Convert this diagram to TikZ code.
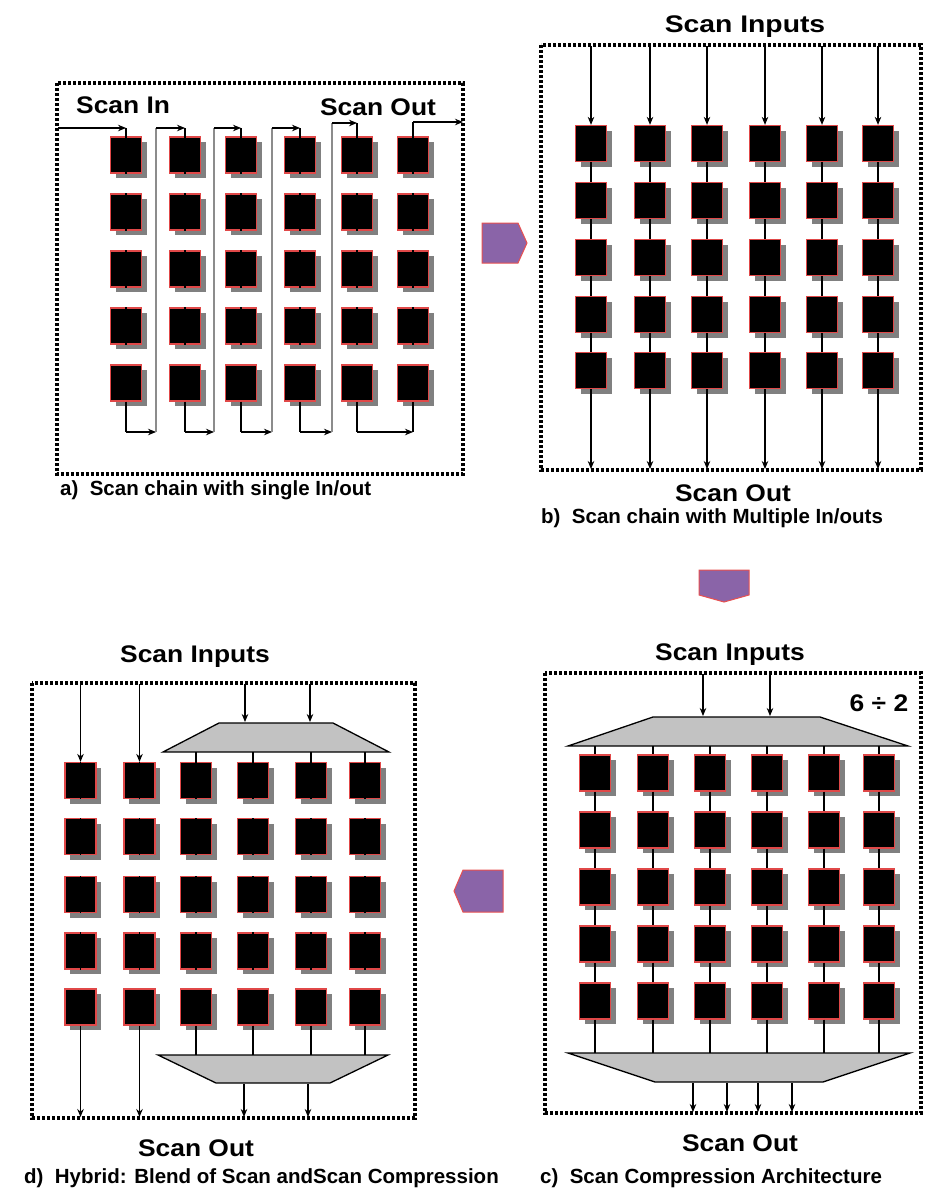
\documentclass[tikz,border=0pt]{standalone}
\usepackage{fontspec}
\setmainfont{Liberation Sans}
\usetikzlibrary{arrows.meta}
\definecolor{cellred}{HTML}{E04848}
\definecolor{shadowgray}{HTML}{808080}
\definecolor{trapgray}{HTML}{C2C2C2}
\definecolor{bigpurple}{HTML}{8A64A8}
\definecolor{bigred}{HTML}{E85050}
\definecolor{wiregray}{HTML}{8C8C8C}
\newcommand\wideText[1]{\scalebox{1.1}[1]{#1}}
\tikzset{
  cellbox/.style={rectangle, draw=cellred, fill=black, line width=1.3pt, inner sep=0pt,
    minimum width=31pt, minimum height=36pt},
  cellshadow/.style={fill=shadowgray},
  frame/.style={draw=black, line width=3.4pt, dash pattern=on 3.4pt off 1.6pt},
  link/.style={draw=black, line width=1.1pt},
  arr/.style={draw=black, line width=1.1pt, -{Stealth[length=8pt,width=6.5pt]}},
  gwire/.style={draw=wiregray, line width=1.6pt},
  trap/.style={fill=trapgray, draw=black, line width=1.3pt},
  bigarrow/.style={fill=bigpurple, draw=bigred, line width=1pt, line join=miter},
  title/.style={font=\bfseries\fontsize{24}{24}\selectfont, inner sep=0pt},
  caption/.style={font=\bfseries\fontsize{20.5}{20.5}\selectfont, inner sep=0pt, anchor=west}
}
\newcommand\cellat[3]{%
  \fill[cellshadow] ([shift={(-10.5,-13)}]#2,#3) rectangle ([shift={(20.5,23)}]#2,#3);
  \node[cellbox] (#1) at (#2,#3) {};}
\begin{document}
\begin{tikzpicture}[x=1pt,y=-1pt]
\useasboundingbox[fill=white] (0,0) rectangle (945,1200);

% ================= Panel a =================
\draw[frame] (57,83) rectangle (463,474);
\foreach [count=\i] \x in {126,185,241,300,357,413}{
  \foreach [count=\j] \y in {155,212,269,326,383}{
    \cellat{a-\i-\j}{\x}{\y}}}
\foreach \i in {1,...,6}
  \foreach \j [evaluate=\j as \k using int(\j+1)] in {1,...,4}
    \draw[link] (a-\i-\j.south) -- (a-\i-\k.north);
\node[title, anchor=west] (ain) at (76,105) {\wideText{Scan In}};
\node[title] (aout) at (378,107) {\wideText{Scan Out}};
\coordinate (ainstart) at (58,128);
\coordinate (aoutend) at (463,122);
% scan in to column 1
\draw[arr] (ainstart) -- (a-1-1.north |- ainstart);
\draw[link] (a-1-1.north |- ainstart) -- (a-1-1.north);
% return wires
\foreach \c/\n/\r/\t in {1/2/156/128, 2/3/214/128, 3/4/272/128, 4/5/332/123}{
  \coordinate (rb\c) at (\r,432);
  \coordinate (rt\c) at (\r,\t);
  \draw[link] (a-\c-5.south) -- (a-\c-5.south |- rb\c);
  \draw[arr] (a-\c-5.south |- rb\c) -- (rb\c);
  \draw[gwire] (rb\c) -- (rt\c);
  \draw[arr] (rt\c) -- (a-\n-1.north |- rt\c);
  \draw[link] (a-\n-1.north |- rt\c) -- (a-\n-1.north);
}
% column 5 bottom to column 6 bottom
\coordinate (rb5) at (357,432);
\draw[link] (a-5-5.south) -- (a-5-5.south |- rb5);
\draw[arr] (a-5-5.south |- rb5) -- (a-6-5.south |- rb5);
\draw[link] (a-6-5.south |- rb5) -- (a-6-5.south);
% column 6 top to scan out
\draw[link] (a-6-1.north) -- (a-6-1.north |- aoutend);
\draw[arr] (a-6-1.north |- aoutend) -- (aoutend);
\node[caption] (acap) at (60,490) {a)\ \ Scan chain with single In/out};

% ================= Panel b =================
\draw[frame] (541,45) rectangle (921,470);
\node[title] (bin) at (745,27) {\scalebox{1.18}[1]{Scan Inputs}};
\foreach [count=\i] \x in {591,650,707,765,822,878}{
  \foreach [count=\j] \y in {143.5,200.5,257.5,314.5,370.5}{
    \cellat{b-\i-\j}{\x}{\y}}}
\foreach \i in {1,...,6}{
  \foreach \j [evaluate=\j as \k using int(\j+1)] in {1,...,4}
    \draw[link] (b-\i-\j.south) -- (b-\i-\k.north);
}
\foreach \i in {1,...,6}{
  \draw[arr] (b-\i-1.north |- 0,46) -- (b-\i-1.north);
  \draw[arr] (b-\i-5.south) -- (b-\i-5.south |- 0,469);
}
\node[title] (bout) at (733,493) {\wideText{Scan Out}};
\node[caption] (bcap) at (541,518) {b)\ \ Scan chain with Multiple In/outs};

% ================= big arrows =================
\draw[bigarrow] (482,223) -- (518,223) -- (527,243) -- (518,263) -- (482,263) -- cycle;
\draw[bigarrow] (699,570) -- (749,570) -- (749,595) -- (724,602) -- (699,595) -- cycle;
\draw[bigarrow] (503,870) -- (503,912) -- (463,912) -- (454,891) -- (463,870) -- cycle;

% ================= Panel c =================
\draw[frame] (545,673) rectangle (921,1113);
\node[title] (cin) at (730,655) {\wideText{Scan Inputs}};
\node[title] (cratio) at (879,703) {\wideText{6 ÷ 2}};
\draw[trap] (653,717) coordinate (ctl) -- (820,717) coordinate (ctr) -- (908,746) coordinate (cbr) -- (568,746) coordinate (cbl) -- cycle;
\draw[trap] (568,1053) coordinate (dtl) -- (910,1053) coordinate (dtr) -- (823,1082) coordinate (dbr) -- (655,1082) coordinate (dbl) -- cycle;
\foreach \x in {703,770}
  \draw[arr] (\x,674) -- (\x,716);
\foreach [count=\i] \x in {595,653,710,767,824,879}{
  \foreach [count=\j] \y in {773,830,887,944,1001}{
    \cellat{c-\i-\j}{\x}{\y}}}
\foreach \i in {1,...,6}{
  \foreach \j [evaluate=\j as \k using int(\j+1)] in {1,...,4}
    \draw[link] (c-\i-\j.south) -- (c-\i-\k.north);
  \draw[link] (c-\i-1.north |- cbl) -- (c-\i-1.north);
  \draw[link] (c-\i-5.south) -- (c-\i-5.south |- dtl);
}
\foreach \x in {693,727,758,792}
  \draw[arr] (\x,1083) -- (\x,1112);
\node[title] (cout) at (740,1143) {\wideText{Scan Out}};
\node[caption] (ccap) at (540,1178) {c)\ \ Scan Compression Architecture};

% ================= Panel d =================
\draw[frame] (32,683) rectangle (415,1118);
\node[title] (din) at (195,657) {\wideText{Scan Inputs}};
\draw[trap] (219,723) -- (333,723) -- (389,752) coordinate (ebr) -- (163,752) coordinate (ebl) -- cycle;
\draw[trap] (158,1055) coordinate (ftl) -- (388,1055) -- (330,1083) -- (216,1083) -- cycle;
\foreach \x in {245,310}
  \draw[arr] (\x,684) -- (\x,722);
\foreach [count=\i] \x in {80.5,139.5,196,253,311,365}{
  \foreach [count=\j] \y in {780.5,836.5,894.5,951,1007}{
    \cellat{d-\i-\j}{\x}{\y}}}
\foreach \i in {1,...,6}
  \foreach \j [evaluate=\j as \k using int(\j+1)] in {1,...,4}
    \draw[link] (d-\i-\j.south) -- (d-\i-\k.north);
\foreach \i in {1,2}{
  \draw[arr] (d-\i-1.north |- 0,684) -- (d-\i-1.north);
  \draw[arr] (d-\i-5.south) -- (d-\i-5.south |- 0,1117);
}
\foreach \i in {3,...,6}{
  \draw[link] (d-\i-1.north |- ebl) -- (d-\i-1.north);
  \draw[link] (d-\i-5.south) -- (d-\i-5.south |- ftl);
}
\foreach \x in {244,308}
  \draw[arr] (\x,1084) -- (\x,1117);
\node[title] (dout) at (196,1148) {\wideText{Scan Out}};
\node[caption] (dcap) at (24,1178) {d)\ \ Hybrid: Blend of Scan andScan Compression};
\end{tikzpicture}
\end{document}
